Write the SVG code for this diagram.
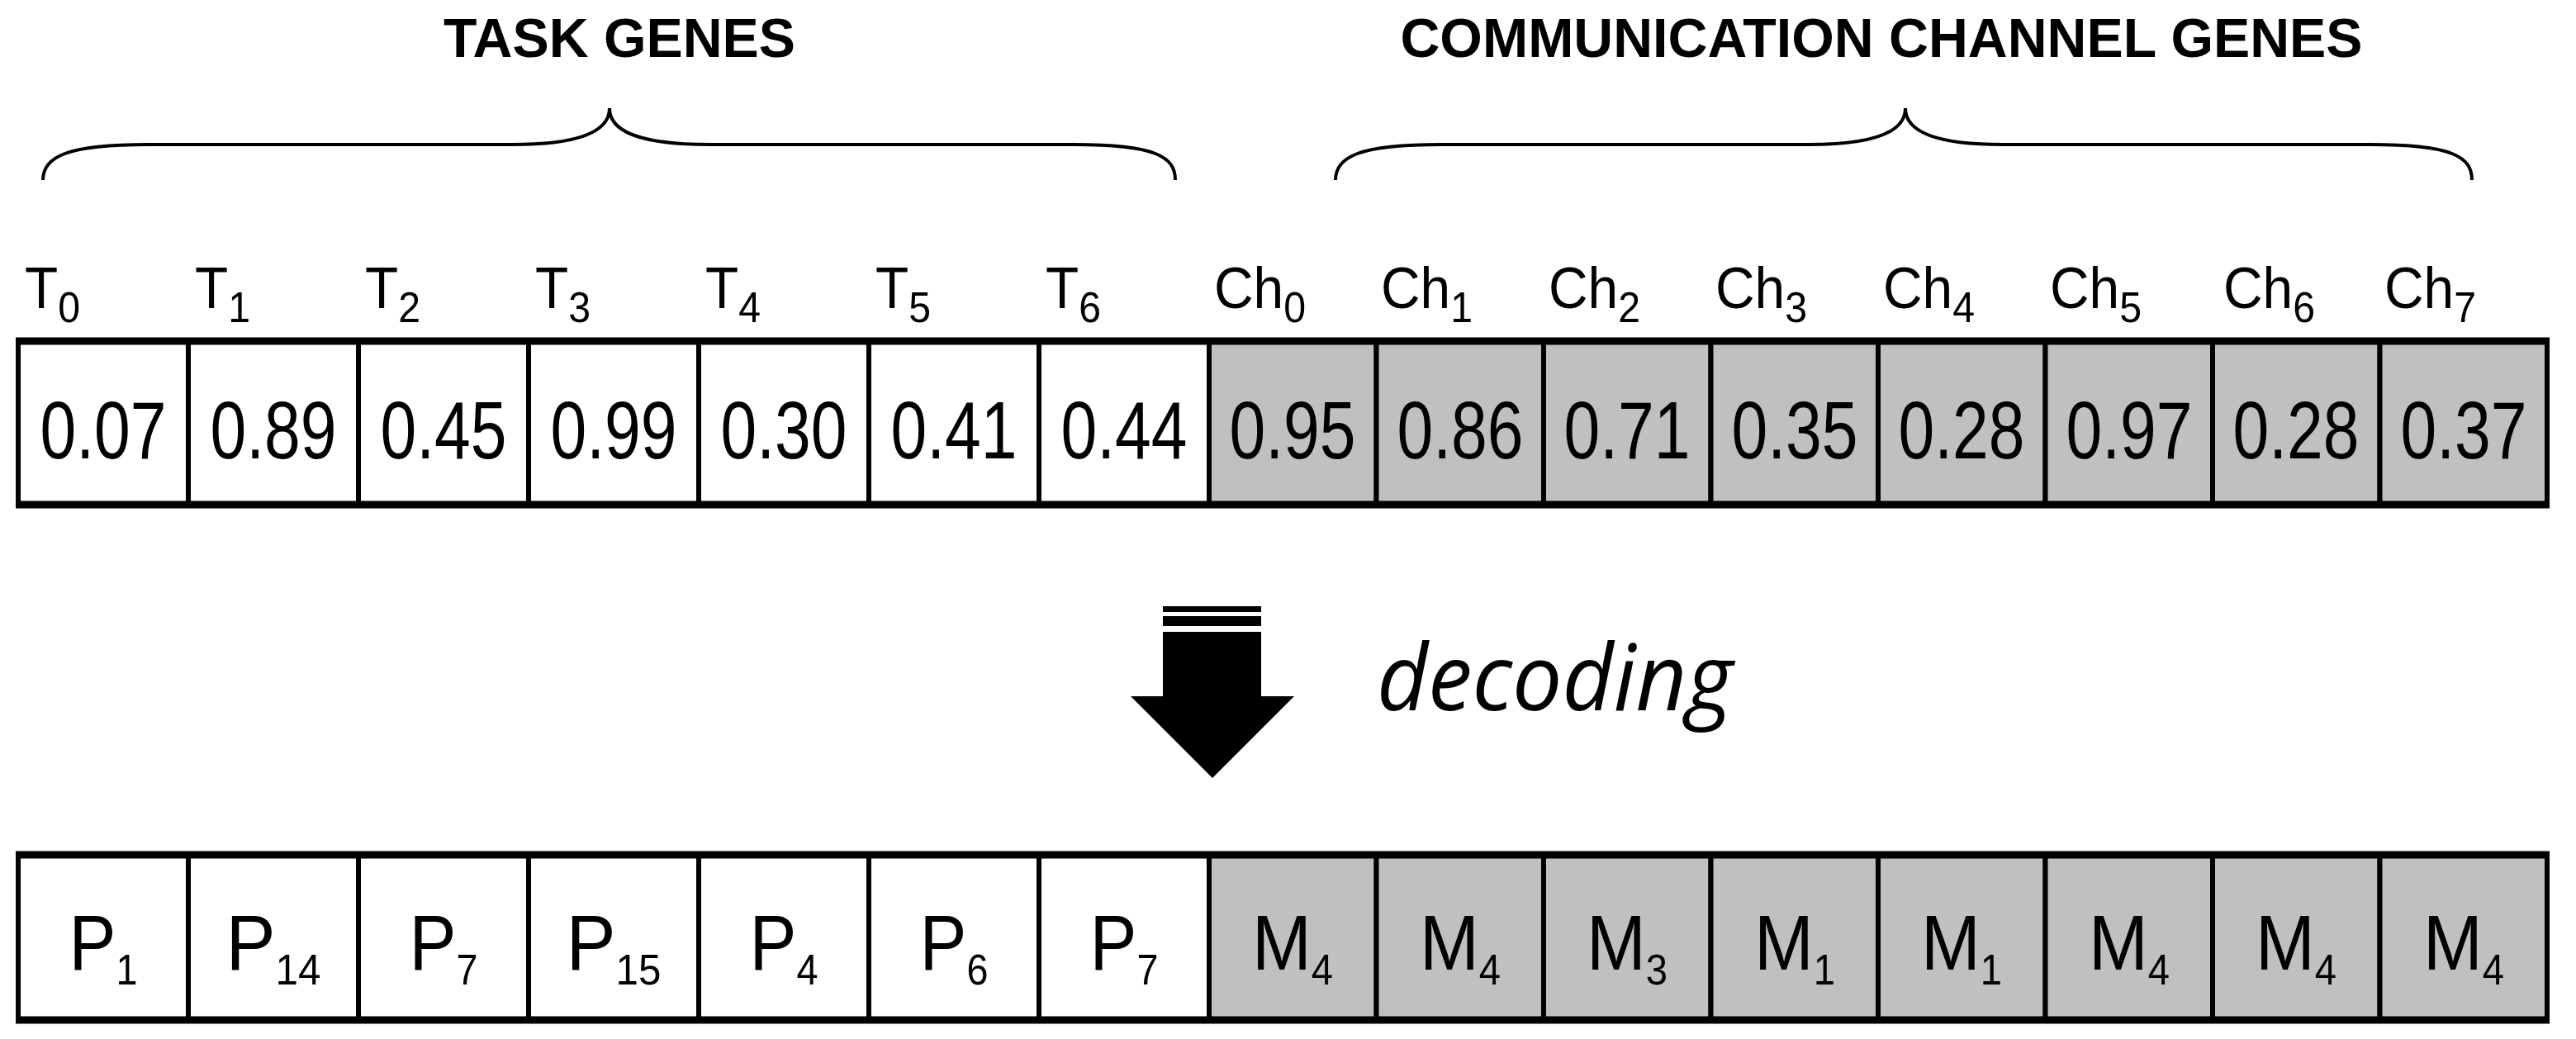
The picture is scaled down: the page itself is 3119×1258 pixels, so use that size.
<svg xmlns="http://www.w3.org/2000/svg" width="3119" height="1258" viewBox="0 0 3119 1258">
<style>
.w{fill:#fff;stroke:#000;stroke-width:6}
.g{fill:#c0c0c0;stroke:#000;stroke-width:6}
.lab{font-family:"Liberation Sans",Arial,sans-serif;font-size:71px}
.val{font-family:"Liberation Sans",Arial,sans-serif;font-size:99px;text-anchor:middle}
.big{font-family:"Liberation Sans",Arial,sans-serif;font-size:95px;text-anchor:middle}
.sub{font-size:52px}
.hd{font-family:"Liberation Sans",Arial,sans-serif;font-size:66px;font-weight:bold;text-anchor:middle}
.br{fill:none;stroke:#000;stroke-width:4}
</style>
<g id="headers">
<text class="hd" x="750" y="69" textLength="426" lengthAdjust="spacingAndGlyphs">TASK GENES</text>
<text class="hd" x="2278" y="69" textLength="1165" lengthAdjust="spacingAndGlyphs">COMMUNICATION CHANNEL GENES</text>
<path class="br" d="M52,218 C52,190 80,175 180,175 L620,175 C700,175 738,160 738,131 C738,160 776,175 860,175 L1300,175 C1400,175 1423,190 1423,218"/>
<path class="br" d="M1617,218 C1617,190 1645,175 1745,175 L2190,175 C2269,175 2307,160 2307,131 C2307,160 2345,175 2425,175 L2870,175 C2970,175 2993,190 2993,218"/>
</g>
<g id="top-row">
<rect class="w" x="22" y="413" width="206" height="198"/><rect class="w" x="228" y="413" width="206" height="198"/><rect class="w" x="434" y="413" width="206" height="198"/><rect class="w" x="640" y="413" width="206" height="198"/><rect class="w" x="846" y="413" width="206" height="198"/><rect class="w" x="1052" y="413" width="206" height="198"/><rect class="w" x="1258" y="413" width="206" height="198"/>
<rect class="g" x="1464" y="413" width="202.5" height="198"/><rect class="g" x="1666.5" y="413" width="202.5" height="198"/><rect class="g" x="1869" y="413" width="202.5" height="198"/><rect class="g" x="2071.5" y="413" width="202.5" height="198"/><rect class="g" x="2274" y="413" width="202.5" height="198"/><rect class="g" x="2476.5" y="413" width="202.5" height="198"/><rect class="g" x="2679" y="413" width="202.5" height="198"/><rect class="g" x="2881.5" y="413" width="202.5" height="198"/>
<line x1="19" y1="413" x2="3087" y2="413" stroke="#000" stroke-width="9"/><line x1="19" y1="611" x2="3087" y2="611" stroke="#000" stroke-width="9"/>
<g class="val">
<text x="125" y="555" textLength="153" lengthAdjust="spacingAndGlyphs">0.07</text>
<text x="331" y="555" textLength="153" lengthAdjust="spacingAndGlyphs">0.89</text>
<text x="537" y="555" textLength="153" lengthAdjust="spacingAndGlyphs">0.45</text>
<text x="743" y="555" textLength="153" lengthAdjust="spacingAndGlyphs">0.99</text>
<text x="949" y="555" textLength="153" lengthAdjust="spacingAndGlyphs">0.30</text>
<text x="1155" y="555" textLength="153" lengthAdjust="spacingAndGlyphs">0.41</text>
<text x="1361" y="555" textLength="153" lengthAdjust="spacingAndGlyphs">0.44</text>
<text x="1565" y="555" textLength="153" lengthAdjust="spacingAndGlyphs">0.95</text>
<text x="1768" y="555" textLength="153" lengthAdjust="spacingAndGlyphs">0.86</text>
<text x="1970" y="555" textLength="153" lengthAdjust="spacingAndGlyphs">0.71</text>
<text x="2173" y="555" textLength="153" lengthAdjust="spacingAndGlyphs">0.35</text>
<text x="2375" y="555" textLength="153" lengthAdjust="spacingAndGlyphs">0.28</text>
<text x="2578" y="555" textLength="153" lengthAdjust="spacingAndGlyphs">0.97</text>
<text x="2780" y="555" textLength="153" lengthAdjust="spacingAndGlyphs">0.28</text>
<text x="2983" y="555" textLength="153" lengthAdjust="spacingAndGlyphs">0.37</text>
</g>
<g class="lab">
<text x="30" y="373" textLength="67" lengthAdjust="spacingAndGlyphs">T<tspan class="sub" dy="17">0</tspan></text>
<text x="236" y="373" textLength="67" lengthAdjust="spacingAndGlyphs">T<tspan class="sub" dy="17">1</tspan></text>
<text x="442" y="373" textLength="67" lengthAdjust="spacingAndGlyphs">T<tspan class="sub" dy="17">2</tspan></text>
<text x="648" y="373" textLength="67" lengthAdjust="spacingAndGlyphs">T<tspan class="sub" dy="17">3</tspan></text>
<text x="854" y="373" textLength="67" lengthAdjust="spacingAndGlyphs">T<tspan class="sub" dy="17">4</tspan></text>
<text x="1060" y="373" textLength="67" lengthAdjust="spacingAndGlyphs">T<tspan class="sub" dy="17">5</tspan></text>
<text x="1266" y="373" textLength="67" lengthAdjust="spacingAndGlyphs">T<tspan class="sub" dy="17">6</tspan></text>
<text x="1470" y="373" textLength="111" lengthAdjust="spacingAndGlyphs">Ch<tspan class="sub" dy="17">0</tspan></text>
<text x="1672" y="373" textLength="111" lengthAdjust="spacingAndGlyphs">Ch<tspan class="sub" dy="17">1</tspan></text>
<text x="1875" y="373" textLength="111" lengthAdjust="spacingAndGlyphs">Ch<tspan class="sub" dy="17">2</tspan></text>
<text x="2077" y="373" textLength="111" lengthAdjust="spacingAndGlyphs">Ch<tspan class="sub" dy="17">3</tspan></text>
<text x="2280" y="373" textLength="111" lengthAdjust="spacingAndGlyphs">Ch<tspan class="sub" dy="17">4</tspan></text>
<text x="2482" y="373" textLength="111" lengthAdjust="spacingAndGlyphs">Ch<tspan class="sub" dy="17">5</tspan></text>
<text x="2692" y="373" textLength="111" lengthAdjust="spacingAndGlyphs">Ch<tspan class="sub" dy="17">6</tspan></text>
<text x="2887" y="373" textLength="111" lengthAdjust="spacingAndGlyphs">Ch<tspan class="sub" dy="17">7</tspan></text>
</g>
</g>
<g id="connectors">
<rect x="1408" y="734" width="119" height="7"/>
<rect x="1408" y="746" width="119" height="12"/>
<polygon points="1408,765 1527,765 1527,843 1567,843 1468,942 1369,843 1408,843"/>
</g>
<g id="decoding">
<text x="1667" y="860" font-family="'Open Sans',sans-serif" font-style="italic" font-size="112" textLength="431" lengthAdjust="spacingAndGlyphs">decoding</text>
</g>
<g id="bottom-row">
<rect class="w" x="22" y="1035" width="206" height="200"/><rect class="w" x="228" y="1035" width="206" height="200"/><rect class="w" x="434" y="1035" width="206" height="200"/><rect class="w" x="640" y="1035" width="206" height="200"/><rect class="w" x="846" y="1035" width="206" height="200"/><rect class="w" x="1052" y="1035" width="206" height="200"/><rect class="w" x="1258" y="1035" width="206" height="200"/>
<rect class="g" x="1464" y="1035" width="202.5" height="200"/><rect class="g" x="1666.5" y="1035" width="202.5" height="200"/><rect class="g" x="1869" y="1035" width="202.5" height="200"/><rect class="g" x="2071.5" y="1035" width="202.5" height="200"/><rect class="g" x="2274" y="1035" width="202.5" height="200"/><rect class="g" x="2476.5" y="1035" width="202.5" height="200"/><rect class="g" x="2679" y="1035" width="202.5" height="200"/><rect class="g" x="2881.5" y="1035" width="202.5" height="200"/>
<line x1="19" y1="1035" x2="3087" y2="1035" stroke="#000" stroke-width="9"/><line x1="19" y1="1235" x2="3087" y2="1235" stroke="#000" stroke-width="9"/>
<g class="big">
<text x="125" y="1174" textLength="83" lengthAdjust="spacingAndGlyphs">P<tspan class="sub" dy="18">1</tspan></text>
<text x="331" y="1174" textLength="115" lengthAdjust="spacingAndGlyphs">P<tspan class="sub" dy="18">14</tspan></text>
<text x="537" y="1174" textLength="83" lengthAdjust="spacingAndGlyphs">P<tspan class="sub" dy="18">7</tspan></text>
<text x="743" y="1174" textLength="115" lengthAdjust="spacingAndGlyphs">P<tspan class="sub" dy="18">15</tspan></text>
<text x="949" y="1174" textLength="83" lengthAdjust="spacingAndGlyphs">P<tspan class="sub" dy="18">4</tspan></text>
<text x="1155" y="1174" textLength="83" lengthAdjust="spacingAndGlyphs">P<tspan class="sub" dy="18">6</tspan></text>
<text x="1361" y="1174" textLength="83" lengthAdjust="spacingAndGlyphs">P<tspan class="sub" dy="18">7</tspan></text>
<text x="1565" y="1174" textLength="98" lengthAdjust="spacingAndGlyphs">M<tspan class="sub" dy="18">4</tspan></text>
<text x="1768" y="1174" textLength="98" lengthAdjust="spacingAndGlyphs">M<tspan class="sub" dy="18">4</tspan></text>
<text x="1970" y="1174" textLength="98" lengthAdjust="spacingAndGlyphs">M<tspan class="sub" dy="18">3</tspan></text>
<text x="2173" y="1174" textLength="98" lengthAdjust="spacingAndGlyphs">M<tspan class="sub" dy="18">1</tspan></text>
<text x="2375" y="1174" textLength="98" lengthAdjust="spacingAndGlyphs">M<tspan class="sub" dy="18">1</tspan></text>
<text x="2578" y="1174" textLength="98" lengthAdjust="spacingAndGlyphs">M<tspan class="sub" dy="18">4</tspan></text>
<text x="2780" y="1174" textLength="98" lengthAdjust="spacingAndGlyphs">M<tspan class="sub" dy="18">4</tspan></text>
<text x="2983" y="1174" textLength="98" lengthAdjust="spacingAndGlyphs">M<tspan class="sub" dy="18">4</tspan></text>
</g>
</g>
</svg>
